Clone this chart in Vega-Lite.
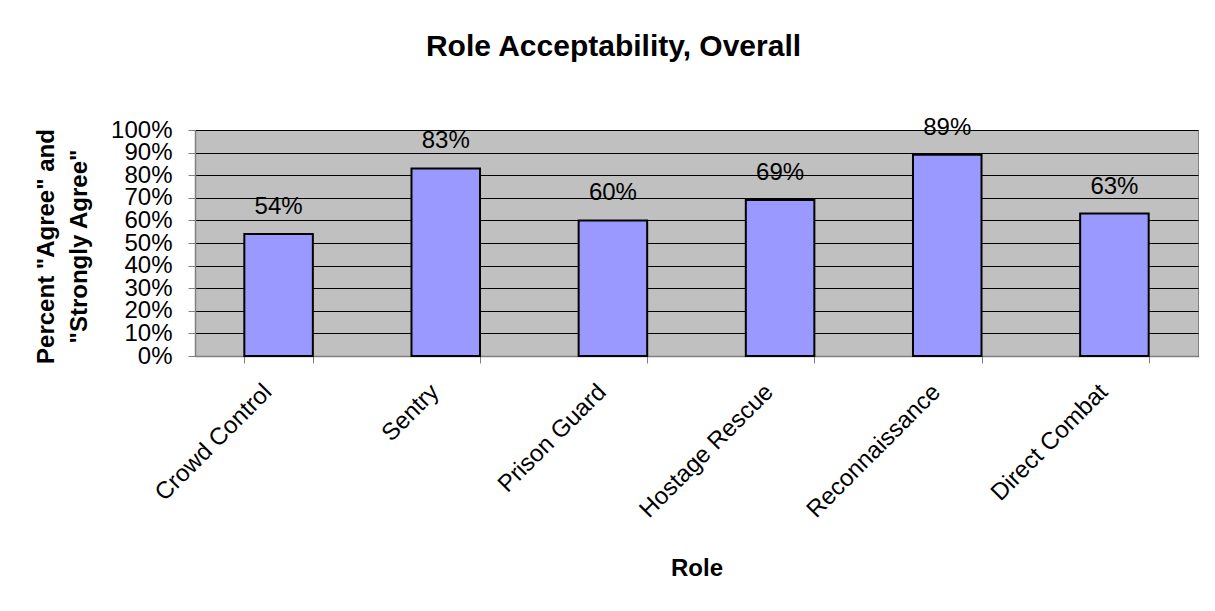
{
  "$schema": "https://vega.github.io/schema/vega-lite/v6.json",
  "width": 1003,
  "height": 226,
  "autosize": "none",
  "padding": {"left": 195, "top": 130, "right": 17, "bottom": 255},
  "background": "white",
  "title": {
    "text": "Role Acceptability, Overall",
    "font": "Liberation Sans",
    "fontSize": 30,
    "fontWeight": "bold",
    "color": "black",
    "anchor": "middle",
    "baseline": "alphabetic",
    "dx": -83,
    "offset": 30
  },
  "config": {
    "view": {"fill": "#c0c0c0", "stroke": "#808080", "strokeWidth": 1},
    "font": "Liberation Sans"
  },
  "data": {
    "values": [
      {"role": "Crowd Control", "pct": 0.54},
      {"role": "Sentry", "pct": 0.83},
      {"role": "Prison Guard", "pct": 0.60},
      {"role": "Hostage Rescue", "pct": 0.69},
      {"role": "Reconnaissance", "pct": 0.89},
      {"role": "Direct Combat", "pct": 0.63}
    ]
  },
  "encoding": {
    "x": {
      "field": "role",
      "type": "nominal",
      "sort": null,
      "scale": {"paddingInner": 0.59, "paddingOuter": 0.295},
      "axis": {
        "title": "Role",
        "titleFont": "Liberation Sans",
        "titleFontSize": 24,
        "titleFontWeight": "bold",
        "titleColor": "black",
        "titleY": 219,
        "titleBaseline": "alphabetic",
        "labelAngle": -45,
        "labelAlign": "right",
        "labelBaseline": "middle",
        "labelFont": "Liberation Sans",
        "labelFontSize": 24,
        "labelColor": "black",
        "labelPadding": 25,
        "labelOffset": -11,
        "tickBand": "extent",
        "tickSize": 7,
        "tickColor": "#808080",
        "domainColor": "#808080",
        "domainWidth": 1.5,
        "grid": false
      }
    },
    "y": {
      "field": "pct",
      "type": "quantitative",
      "scale": {"domain": [0, 1], "nice": false},
      "axis": {
        "title": ["Percent \"Agree\" and", "\"Strongly Agree\""],
        "titleFont": "Liberation Sans",
        "titleFontSize": 24,
        "titleFontWeight": "bold",
        "titleColor": "black",
        "titleAngle": -90,
        "titleAlign": "center",
        "titleBaseline": "alphabetic",
        "titleX": -142,
        "titleY": 116,
        "titleLineHeight": 33,
        "values": [0, 0.1, 0.2, 0.3, 0.4, 0.5, 0.6, 0.7, 0.8, 0.9, 1],
        "format": ".0%",
        "labelFont": "Liberation Sans",
        "labelFontSize": 24,
        "labelColor": "black",
        "labelPadding": 16,
        "labelOverlap": false,
        "tickSize": 7,
        "tickColor": "#808080",
        "domainColor": "#808080",
        "domainWidth": 1.5,
        "grid": true,
        "gridColor": "black",
        "gridWidth": 1,
        "gridOpacity": 1
      }
    }
  },
  "layer": [
    {
      "mark": {"type": "bar", "fill": "#9999ff", "stroke": "black", "strokeWidth": 2}
    },
    {
      "mark": {"type": "text", "fontSize": 24, "color": "black", "baseline": "alphabetic", "dy": -20, "font": "Liberation Sans"},
      "encoding": {"text": {"field": "pct", "type": "quantitative", "format": ".0%"}}
    }
  ]
}
